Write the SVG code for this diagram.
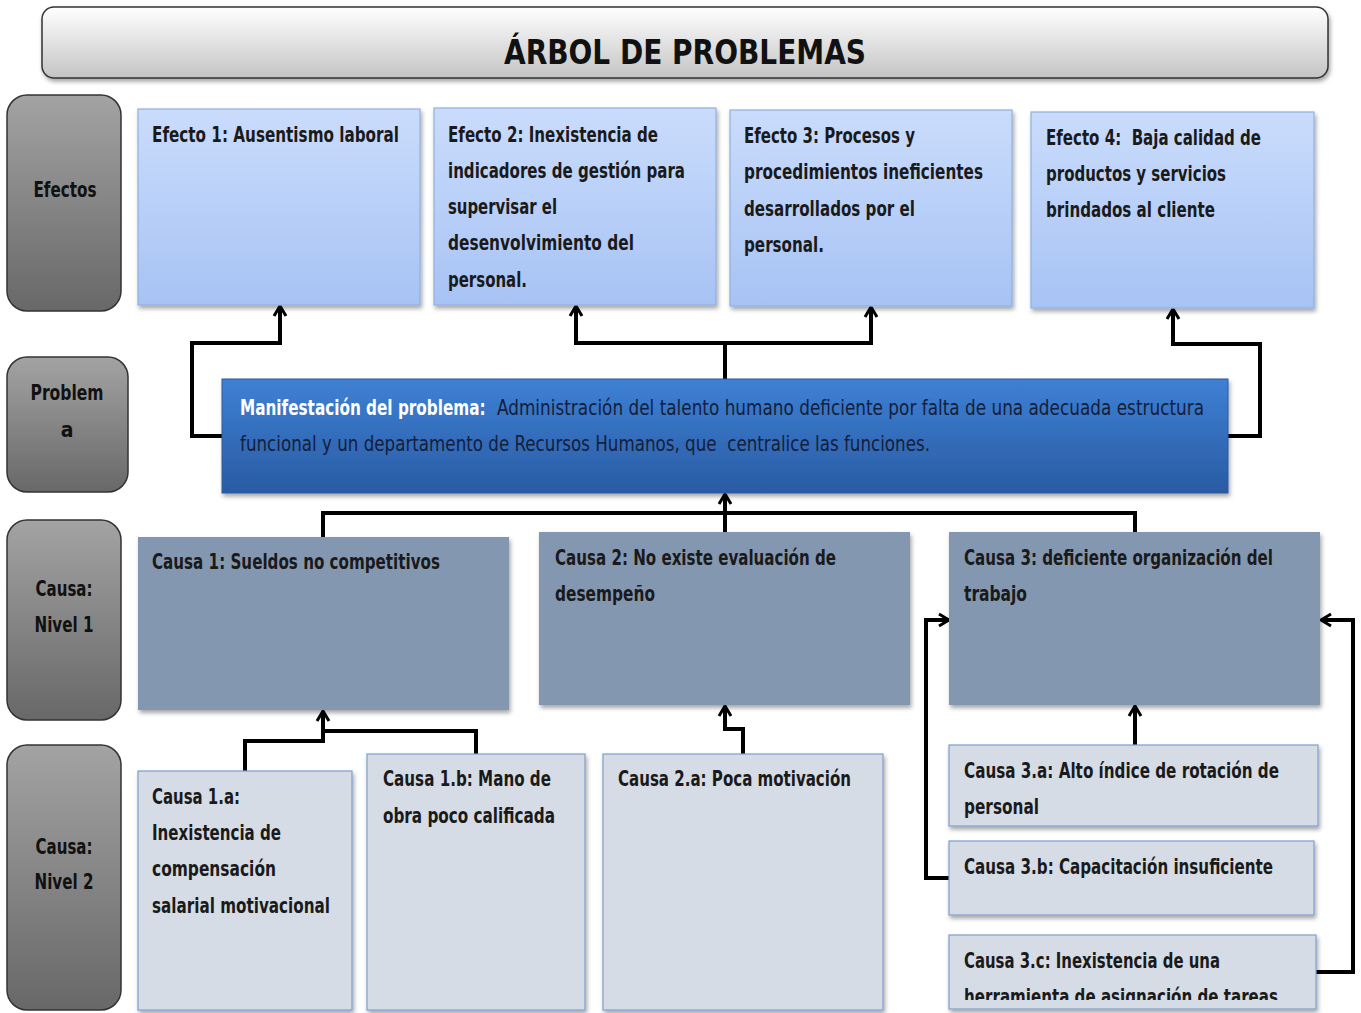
<svg xmlns="http://www.w3.org/2000/svg" width="1361" height="1013" viewBox="0 0 1361 1013">
<defs>
<style>
.t{font-family:"Liberation Sans Narrow","DejaVu Sans Condensed","Liberation Sans",sans-serif;font-size:21px;font-weight:bold;fill:#1a1a1a}
.lbl{font-family:"Liberation Sans Narrow","DejaVu Sans Condensed","Liberation Sans",sans-serif;font-size:21px;font-weight:bold;fill:#111;text-anchor:middle}
.ptx{font-family:"Liberation Sans Narrow","DejaVu Sans Condensed","Liberation Sans",sans-serif;font-size:21px}
.pw{font-weight:bold;fill:#ffffff}
.pt{fill:#14203c}
.side{fill:url(#gGray);stroke:#333;stroke-width:1.5}
.eff{fill:url(#gEff);stroke:#8fb0e0;stroke-width:1.2;filter:url(#sh)}
.c1{fill:#8497b0;filter:url(#sh)}
.c2{fill:#d6dce5;stroke:#7f9fcf;stroke-width:1.2;filter:url(#sh)}
.con{fill:none;stroke:#000;stroke-width:4;stroke-linejoin:miter}
.arr{marker-end:url(#ah)}
</style>
<linearGradient id="gTitle" x1="0" y1="0" x2="0" y2="1">
<stop offset="0" stop-color="#ffffff"/><stop offset="1" stop-color="#c4c4c4"/>
</linearGradient>
<linearGradient id="gGray" x1="0" y1="0" x2="0" y2="1">
<stop offset="0" stop-color="#a3a3a3"/><stop offset="1" stop-color="#686868"/>
</linearGradient>
<linearGradient id="gEff" x1="0" y1="0" x2="0" y2="1">
<stop offset="0" stop-color="#cadcfc"/><stop offset="1" stop-color="#a7c3f4"/>
</linearGradient>
<linearGradient id="gProb" x1="0" y1="0" x2="0" y2="1">
<stop offset="0" stop-color="#3e80d4"/><stop offset="1" stop-color="#295ba3"/>
</linearGradient>
<filter id="sh" x="-5%" y="-5%" width="112%" height="115%">
<feDropShadow dx="1.5" dy="3" stdDeviation="2" flood-color="#000" flood-opacity="0.35"/>
</filter>
<marker id="ah" viewBox="0 0 16 16" refX="14" refY="8" markerWidth="16" markerHeight="16" markerUnits="userSpaceOnUse" orient="auto">
<path d="M4,2 L14,8 L4,14" fill="none" stroke="#000" stroke-width="3"/>
</marker>
<clipPath id="clip3c"><rect x="949" y="935" width="367" height="65"/></clipPath>
</defs>

<rect width="1361" height="1013" fill="#ffffff"/>

<g id="title">
<rect x="42" y="7" width="1286" height="71" rx="12" fill="url(#gTitle)" stroke="#333" stroke-width="1.5" filter="url(#sh)"/>
<text x="504" y="64" font-family="'Liberation Sans Narrow','DejaVu Sans Condensed','Liberation Sans',sans-serif" font-size="33" font-weight="bold" fill="#111" textLength="362" lengthAdjust="spacingAndGlyphs">ÁRBOL DE PROBLEMAS</text>
</g>

<g id="label-efectos">
<rect class="side" x="7" y="95" width="114" height="216" rx="20"/>
<text class="lbl" x="65" y="197" textLength="63" lengthAdjust="spacingAndGlyphs">Efectos</text>
</g>
<g id="label-problema">
<rect class="side" x="7" y="357" width="121" height="135" rx="20"/>
<text class="lbl" x="67" y="400" textLength="73" lengthAdjust="spacingAndGlyphs">Problem</text>
<text class="lbl" x="67" y="437">a</text>
</g>
<g id="label-causa1">
<rect class="side" x="7" y="520" width="114" height="200" rx="20"/>
<text class="lbl" x="64" y="596" textLength="57" lengthAdjust="spacingAndGlyphs">Causa:</text>
<text class="lbl" x="64" y="632" textLength="59" lengthAdjust="spacingAndGlyphs">Nivel 1</text>
</g>
<g id="label-causa2">
<rect class="side" x="7" y="745" width="114" height="265" rx="20"/>
<text class="lbl" x="64" y="854" textLength="57" lengthAdjust="spacingAndGlyphs">Causa:</text>
<text class="lbl" x="64" y="889" textLength="59" lengthAdjust="spacingAndGlyphs">Nivel 2</text>
</g>

<g id="connectors">
<path class="con arr" d="M222,436 H192 V343 H280 V306"/>
<path class="con arr" d="M725,379 V343 H576 V306"/>
<path class="con arr" d="M725,343 H871 V307"/>
<path class="con arr" d="M1228,436 H1260 V344 H1173 V309"/>
<path class="con" d="M323,537 V513 H1135 V532"/>
<path class="con arr" d="M725,532 V494"/>
<path class="con arr" d="M245,771 V741 H323 V711"/>
<path class="con" d="M476,754 V731 H323"/>
<path class="con arr" d="M743,754 V729 H725 V706"/>
<path class="con arr" d="M1135,745 V706"/>
<path class="con arr" d="M949,878 H926 V620 H949"/>
<path class="con arr" d="M1316,972 H1353 V620 H1321"/>
</g>

<g id="efecto1">
<rect class="eff" x="138" y="109" width="282" height="196"/>
<text class="t" x="152" y="142" textLength="247" lengthAdjust="spacingAndGlyphs">Efecto 1: Ausentismo laboral</text>
</g>
<g id="efecto2">
<rect class="eff" x="434" y="108" width="282" height="197"/>
<text class="t" x="448" y="142" textLength="210" lengthAdjust="spacingAndGlyphs">Efecto 2: Inexistencia de</text>
<text class="t" x="448" y="178" textLength="237" lengthAdjust="spacingAndGlyphs">indicadores de gestión para</text>
<text class="t" x="448" y="214" textLength="109" lengthAdjust="spacingAndGlyphs">supervisar el</text>
<text class="t" x="448" y="250" textLength="186" lengthAdjust="spacingAndGlyphs">desenvolvimiento del</text>
<text class="t" x="448" y="287" textLength="79" lengthAdjust="spacingAndGlyphs">personal.</text>
</g>
<g id="efecto3">
<rect class="eff" x="730" y="110" width="282" height="196"/>
<text class="t" x="744" y="143" textLength="171" lengthAdjust="spacingAndGlyphs">Efecto 3: Procesos y</text>
<text class="t" x="744" y="179" textLength="239" lengthAdjust="spacingAndGlyphs">procedimientos ineficientes</text>
<text class="t" x="744" y="216" textLength="171" lengthAdjust="spacingAndGlyphs">desarrollados por el</text>
<text class="t" x="744" y="252" textLength="80" lengthAdjust="spacingAndGlyphs">personal.</text>
</g>
<g id="efecto4">
<rect class="eff" x="1031" y="112" width="283" height="196"/>
<text class="t" x="1046" y="145" textLength="215" lengthAdjust="spacingAndGlyphs" xml:space="preserve">Efecto 4:  Baja calidad de</text>
<text class="t" x="1046" y="181" textLength="180" lengthAdjust="spacingAndGlyphs">productos y servicios</text>
<text class="t" x="1046" y="217" textLength="169" lengthAdjust="spacingAndGlyphs">brindados al cliente</text>
</g>

<g id="problema">
<rect x="222" y="379" width="1006" height="114" fill="url(#gProb)" stroke="#2a5a9e" stroke-width="1" filter="url(#sh)"/>
<text class="ptx pw" transform="translate(240,415) scale(0.8,1)" x="0" y="0" textLength="307" lengthAdjust="spacingAndGlyphs">Manifestación del problema:</text>
<text class="ptx pt" x="497" y="415" textLength="707" lengthAdjust="spacingAndGlyphs">Administración del talento humano deficiente por falta de una adecuada estructura</text>
<text class="ptx pt" x="240" y="451" textLength="690" lengthAdjust="spacingAndGlyphs" xml:space="preserve">funcional y un departamento de Recursos Humanos, que  centralice las funciones.</text>
</g>

<g id="causa1">
<rect class="c1" x="138" y="537" width="371" height="173"/>
<text class="t" x="152" y="569" textLength="288" lengthAdjust="spacingAndGlyphs">Causa 1: Sueldos no competitivos</text>
</g>
<g id="causa2">
<rect class="c1" x="539" y="532" width="371" height="173"/>
<text class="t" x="555" y="565" textLength="281" lengthAdjust="spacingAndGlyphs">Causa 2: No existe evaluación de</text>
<text class="t" x="555" y="601" textLength="100" lengthAdjust="spacingAndGlyphs">desempeño</text>
</g>
<g id="causa3">
<rect class="c1" x="949" y="532" width="371" height="173"/>
<text class="t" x="964" y="565" textLength="309" lengthAdjust="spacingAndGlyphs">Causa 3: deficiente organización del</text>
<text class="t" x="964" y="601" textLength="63" lengthAdjust="spacingAndGlyphs">trabajo</text>
</g>

<g id="causa1a">
<rect class="c2" x="138" y="771" width="214" height="239"/>
<text class="t" x="152" y="804" textLength="88" lengthAdjust="spacingAndGlyphs">Causa 1.a:</text>
<text class="t" x="152" y="840" textLength="129" lengthAdjust="spacingAndGlyphs">Inexistencia de</text>
<text class="t" x="152" y="876" textLength="124" lengthAdjust="spacingAndGlyphs">compensación</text>
<text class="t" x="152" y="913" textLength="178" lengthAdjust="spacingAndGlyphs">salarial motivacional</text>
</g>
<g id="causa1b">
<rect class="c2" x="367" y="754" width="218" height="256"/>
<text class="t" x="383" y="786" textLength="168" lengthAdjust="spacingAndGlyphs">Causa 1.b: Mano de</text>
<text class="t" x="383" y="823" textLength="172" lengthAdjust="spacingAndGlyphs">obra poco calificada</text>
</g>
<g id="causa2a">
<rect class="c2" x="603" y="754" width="280" height="256"/>
<text class="t" x="618" y="786" textLength="233" lengthAdjust="spacingAndGlyphs">Causa 2.a: Poca motivación</text>
</g>
<g id="causa3a">
<rect class="c2" x="949" y="745" width="369" height="81"/>
<text class="t" x="964" y="778" textLength="315" lengthAdjust="spacingAndGlyphs">Causa 3.a: Alto índice de rotación de</text>
<text class="t" x="964" y="814" textLength="75" lengthAdjust="spacingAndGlyphs">personal</text>
</g>
<g id="causa3b">
<rect class="c2" x="949" y="841" width="365" height="74"/>
<text class="t" x="964" y="874" textLength="309" lengthAdjust="spacingAndGlyphs">Causa 3.b: Capacitación insuficiente</text>
</g>
<g id="causa3c">
<rect class="c2" x="949" y="935" width="367" height="74"/>
<text class="t" x="964" y="968" textLength="256" lengthAdjust="spacingAndGlyphs">Causa 3.c: Inexistencia de una</text>
<text class="t" x="964" y="1004" textLength="314" lengthAdjust="spacingAndGlyphs" clip-path="url(#clip3c)">herramienta de asignación de tareas</text>
</g>
</svg>
